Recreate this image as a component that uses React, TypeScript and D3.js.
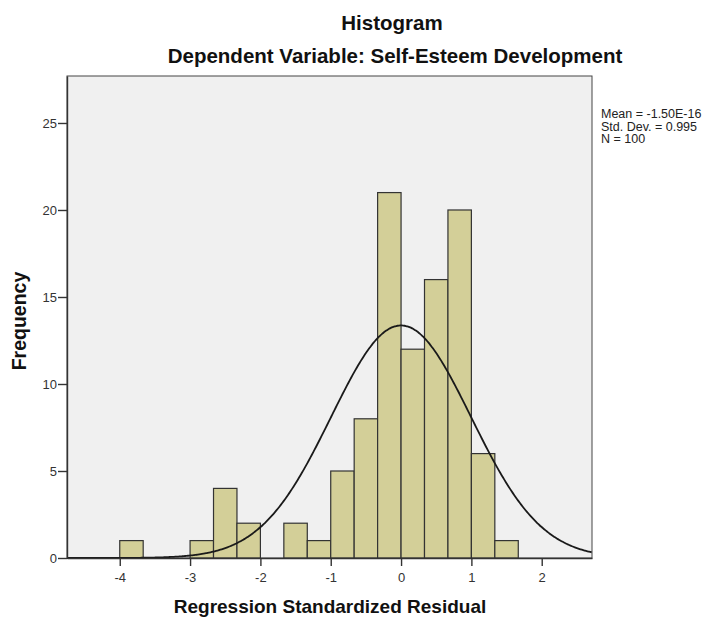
import React, { useRef, useEffect } from 'react';
import * as d3 from 'd3';

// Histogram bins (lower edge) and counts
const binLower = [-4, -3, -8 / 3, -7 / 3, -5 / 3, -4 / 3, -1, -2 / 3, -1 / 3, 0, 1 / 3, 2 / 3, 1, 4 / 3];
const binWidth = 1 / 3;
const counts = [1, 1, 4, 2, 2, 1, 5, 8, 21, 12, 16, 20, 6, 1];

const xTicks = [-4, -3, -2, -1, 0, 1, 2];
const yTicks = [0, 5, 10, 15, 20, 25];

const stats = ['Mean = -1.50E-16', 'Std. Dev. = 0.995', 'N = 100'];
const mean = 0;
const sd = 0.995;
const n = 100;

const App = () => {
  const svgRef = useRef<SVGSVGElement | null>(null);

  useEffect(() => {
    const width = 709;
    const height = 617;
    const margin = { top: 76, right: 117, bottom: 59, left: 67 };
    const font = 'Arial, "Liberation Sans", sans-serif';

    const x = d3.scaleLinear()
      .domain([-4.75, 2.715])
      .range([margin.left, width - margin.right]);

    const y = d3.scaleLinear()
      .domain([0, 27.7])
      .range([height - margin.bottom, margin.top]);

    const svg = d3.select(svgRef.current)
      .attr('width', width)
      .attr('height', height);

    svg.selectAll('*').remove();

    // Plot background
    svg.append('rect')
      .attr('x', margin.left)
      .attr('y', margin.top)
      .attr('width', width - margin.right - margin.left)
      .attr('height', height - margin.bottom - margin.top)
      .attr('fill', '#f0f0f0')
      .attr('stroke', '#444')
      .attr('stroke-width', 1);

    // Bars
    svg.append('g')
      .selectAll('rect')
      .data(counts)
      .enter()
      .append('rect')
      .attr('x', (d, i) => x(binLower[i]))
      .attr('width', x(binWidth) - x(0))
      .attr('y', d => y(d))
      .attr('height', d => y(0) - y(d))
      .attr('fill', '#d3cf98')
      .attr('stroke', '#333')
      .attr('stroke-width', 1.2);

    // Normal curve fitted from the stated statistics
    const curvePts = d3.range(x.domain()[0], x.domain()[1] + 0.001, 0.02);
    const dens = (v: number) =>
      (n * binWidth) / (sd * Math.sqrt(2 * Math.PI)) * Math.exp(-0.5 * ((v - mean) / sd) ** 2);
    const line = d3.line<number>()
      .x(d => x(d))
      .y(d => y(dens(d)))
      .curve(d3.curveBasis);
    svg.append('path')
      .datum(curvePts)
      .attr('fill', 'none')
      .attr('stroke', '#1a1a1a')
      .attr('stroke-width', 1.8)
      .attr('d', line);

    // X axis
    const xAxis = svg.append('g')
      .attr('transform', `translate(0,${height - margin.bottom})`)
      .call(d3.axisBottom(x).tickValues(xTicks).tickSize(8).tickSizeOuter(0).tickFormat(d => String(d)));
    xAxis.select('.domain').attr('stroke', '#333').attr('stroke-width', 1.4);
    xAxis.selectAll('.tick line').attr('stroke', '#333').attr('stroke-width', 1.4);
    xAxis.selectAll('.tick text')
      .attr('font-family', font)
      .attr('font-size', 13)
      .attr('fill', '#333')
      .attr('dy', '1em');

    // Y axis
    const yAxis = svg.append('g')
      .attr('transform', `translate(${margin.left},0)`)
      .call(d3.axisLeft(y).tickValues(yTicks).tickSize(9).tickSizeOuter(0));
    yAxis.select('.domain').attr('stroke', '#333').attr('stroke-width', 1.4);
    yAxis.selectAll('.tick line').attr('stroke', '#333').attr('stroke-width', 1.4);
    yAxis.selectAll('.tick text')
      .attr('font-family', font)
      .attr('font-size', 13)
      .attr('fill', '#333')
      .attr('x', -10);

    const bold = (sel: d3.Selection<SVGTextElement, unknown, null, undefined>, size: number) =>
      sel.attr('text-anchor', 'middle')
        .attr('font-family', font)
        .attr('font-weight', 'bold')
        .attr('font-size', size)
        .attr('fill', '#111');

    // Titles
    bold(svg.append('text').attr('x', 392).attr('y', 30), 20.5).text('Histogram');
    bold(svg.append('text').attr('x', 395).attr('y', 63), 20.5).text('Dependent Variable: Self-Esteem Development');
    bold(svg.append('text').attr('x', 330).attr('y', 613), 19).text('Regression Standardized Residual');
    bold(svg.append('text').attr('transform', 'translate(26,321) rotate(-90)'), 19.5).text('Frequency');

    // Stats legend
    svg.append('g')
      .selectAll('text')
      .data(stats)
      .enter()
      .append('text')
      .attr('x', 601)
      .attr('y', (d, i) => 118 + i * 12.5)
      .attr('font-family', font)
      .attr('font-size', 12.5)
      .attr('fill', '#222')
      .text(d => d);
  }, []);

  return (
    <div style={{ position: 'absolute', left: 0, top: 0 }}>
      <svg ref={svgRef} style={{ display: 'block', background: '#fff' }}></svg>
    </div>
  );
};

export default App;
